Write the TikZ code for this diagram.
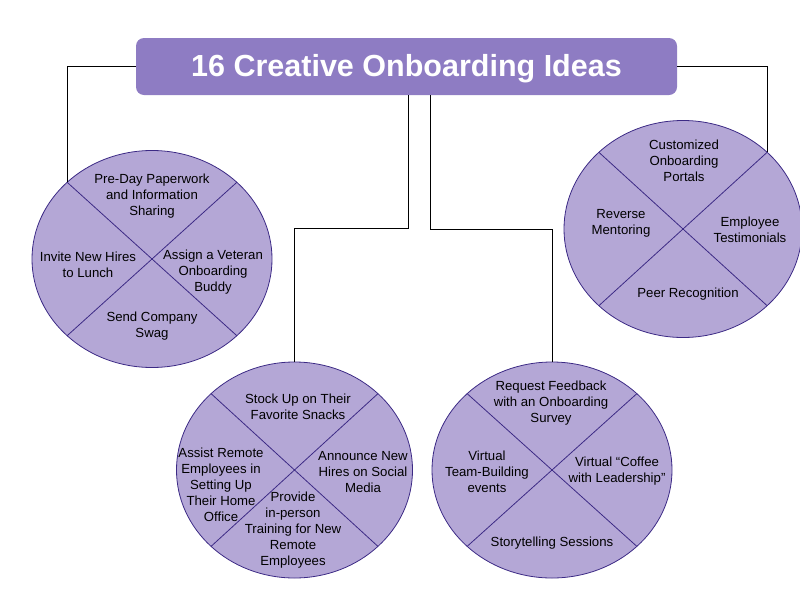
\documentclass[tikz,border=0pt]{standalone}
\usepackage{fontspec}
\setmainfont{Liberation Sans}
\usetikzlibrary{shapes.geometric,calc}
\definecolor{titlefill}{HTML}{8E7CC3}
\definecolor{ellfill}{HTML}{B4A7D6}
\definecolor{ellline}{HTML}{3C2A85}
\tikzset{
 idea/.style={ellipse, draw=ellline, fill=ellfill, line width=0.8pt, inner sep=0pt, minimum width=240pt, minimum height=217pt},
 divline/.style={draw=ellline, line width=0.8pt},
 lbl/.style={align=center, font=\fontsize{13.2}{16}\selectfont, text=black, inner sep=0pt, yshift=-1.5pt},
 conn/.style={draw=black, line width=1pt},
 titlebox/.style={fill=titlefill, rounded corners=8pt, minimum width=541pt, minimum height=57pt, inner sep=0pt},
 titletext/.style={inner sep=0pt, text=white, font=\fontsize{30.5}{36}\selectfont\bfseries}
}
\begin{document}
\begin{tikzpicture}[x=1pt,y=-1pt]
\useasboundingbox (0,0) rectangle (800,600);
% nodes
\node[titlebox] (T) at (406.5,66.5) {};
\node[titletext] (Tt) at (406.5,68.5) {16 Creative Onboarding Ideas};
\node[idea] (L) at (152,259) {};
\node[idea, minimum width=238pt] (R) at (683,229) {};
\node[idea, minimum width=236pt, minimum height=216pt] (M) at (294.5,470) {};
\node[idea, minimum height=216pt] (B) at (552,470) {};
% diagonal points
\foreach \n/\a/\b in {L/120/108.5, R/119/108.5, M/118/108, B/120/108} {
  \coordinate (\n tl) at ($(\n)+({-0.7071*\a},{-0.7071*\b})$);
  \coordinate (\n tr) at ($(\n)+({0.7071*\a},{-0.7071*\b})$);
  \coordinate (\n bl) at ($(\n)+({-0.7071*\a},{0.7071*\b})$);
  \coordinate (\n br) at ($(\n)+({0.7071*\a},{0.7071*\b})$);
  \draw[divline] (\n tl) -- (\n br);
  \draw[divline] (\n tr) -- (\n bl);
}
% connectors
\coordinate (tb1) at ([xshift=1.5pt]T.south);
\coordinate (tb2) at ([xshift=23.5pt]T.south);
\draw[conn] (T.west) -| (Ltl);
\draw[conn] (T.east) -| (Rtr);
\draw[conn] (tb1) -- ++(0,133) -| (M.north);
\draw[conn] (tb2) -- ++(0,134) -| (B.north);
% labels left
\node[lbl] (L1) at (152,195) {Pre-Day Paperwork\\and Information\\Sharing};
\node[lbl] (L2) at (213,271) {Assign a Veteran\\Onboarding\\Buddy};
\node[lbl] (L3) at (88,263.5) {Invite New Hires\\to Lunch};
\node[lbl] (L4) at (152,325) {Send Company\\Swag};
% labels right
\node[lbl] (R1) at (684,159) {Customized\\Onboarding\\Portals};
\node[lbl] (R2) at (621,222) {Reverse\\Mentoring};
\node[lbl] (R3) at (750,228) {Employee\\Testimonials};
\node[lbl] (R4) at (688,293) {Peer Recognition};
% labels bottom middle
\node[lbl] (M1) at (298,405) {Stock Up on Their\\Favorite Snacks};
\node[lbl] (M2) at (363,471) {Announce New\\Hires on Social\\Media};
\node[lbl] (M3) at (221,483) {Assist Remote\\Employees in\\Setting Up\\Their Home\\Office};
\node[lbl] (M4) at (293,529) {Provide\\in-person\\Training for New\\Remote\\Employees};
% labels bottom right
\node[lbl] (B1) at (551,402) {Request Feedback\\with an Onboarding\\Survey};
\node[lbl] (B2) at (487,470) {Virtual\\Team-Building\\events};
\node[lbl] (B3) at (617,470) {Virtual “Coffee\\with Leadership”};
\node[lbl] (B4) at (552,542) {Storytelling Sessions};
\end{tikzpicture}
\end{document}
